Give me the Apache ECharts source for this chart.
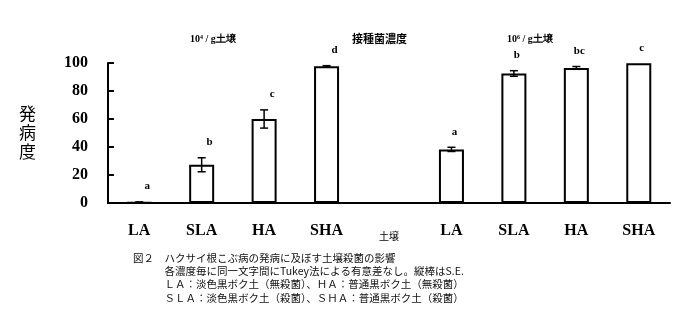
<!DOCTYPE html>
<html><head><meta charset="utf-8">
<script src="https://cdn.jsdelivr.net/npm/echarts@6/dist/echarts.min.js"></script>
<style>html,body{margin:0;padding:0;background:#fff}#c{width:688px;height:315px}</style>
</head><body><div id="c"></div>
<script>
const categories = ['LA','SLA','HA','SHA','土壌','LA','SLA','HA','SHA'];
const values = [0.5, 27.3, 60, 97.6, null, 38.3, 92.5, 96.5, 99.8];
const errors = [0.3, 5, 6.5, 0.5, null, 1.5, 2, 1, 0];
const letters = ['a','b','c','d','', 'a','b','bc','c'];
const yTicks = [0, 20, 40, 60, 80, 100];
const yName = '発病度';
const captionLines = [
  '図２　ハクサイ根こぶ病の発病に及ぼす土壌殺菌の影響',
  '　　　各濃度毎に同一文字間にTukey法による有意差なし。縦棒はS.E.',
  '　　　ＬＡ：淡色黒ボク土（無殺菌）、ＨＡ：普通黒ボク土（無殺菌）',
  '　　　ＳＬＡ：淡色黒ボク土（殺菌）、ＳＨＡ：普通黒ボク土（殺菌）'
];
const headerLeft = '10⁴ / g土壌';
const headerMid = '接種菌濃度';
const headerRight = '10⁶ / g土壌';

const serif = '"Liberation Serif","DejaVu Serif",serif';
const cjk = '"Noto Sans CJK JP",sans-serif';

const errData = values.map((v, i) => v == null ? null : [i, v, errors[i], letters[i]]).filter(d => d);

const chart = echarts.init(document.getElementById('c'));
chart.setOption({
  animation: false,
  grid: {left: 108, right: 18, top: 63, bottom: 112},
  xAxis: {
    type: 'category', data: categories,
    axisLine: {lineStyle: {color: '#000', width: 2}},
    axisTick: {show: false},
    axisLabel: {
      interval: 0, margin: 20, color: '#000', fontFamily: serif, fontWeight: 'bold', fontSize: 16,
      formatter: (v, i) => i === 4 ? '{s|' + v + '}' : v,
      rich: {s: {fontFamily: cjk, fontSize: 10, fontWeight: 'normal', color: '#000', padding: [8, 0, 0, 0]}}
    }
  },
  yAxis: {
    type: 'value', min: 0, max: 100, interval: 20,
    name: yName.split('').join('\n'), nameLocation: 'middle', nameGap: 72, nameRotate: 0,
    nameTextStyle: {fontFamily: cjk, fontSize: 17, color: '#000', lineHeight: 19},
    axisLine: {show: true, lineStyle: {color: '#000', width: 2}},
    axisTick: {show: true, inside: true, length: 6, lineStyle: {color: '#000', width: 2}},
    splitLine: {show: false},
    axisLabel: {color: '#000', fontFamily: serif, fontWeight: 'bold', fontSize: 16, margin: 20,
      formatter: v => yTicks.includes(v) ? String(v) : ''}
  },
  series: [
    {
      type: 'bar', data: values, barWidth: 25,
      itemStyle: {color: '#fff', borderColor: '#000', borderWidth: 2}
    },
    {
      type: 'custom', data: errData, z: 5,
      renderItem: (params, api) => {
        const x = api.value(0), v = api.value(1), e = api.value(2);
        const top = api.coord([x, v + e]);
        const bot = api.coord([x, v - e]);
        const cw = 4;
        const children = [];
        if (e > 0) {
          children.push(
            {type: 'line', shape: {x1: top[0], y1: top[1], x2: bot[0], y2: bot[1]}, style: {stroke: '#000', lineWidth: 1.5}},
            {type: 'line', shape: {x1: top[0]-cw, y1: top[1], x2: top[0]+cw, y2: top[1]}, style: {stroke: '#000', lineWidth: 1.5}},
            {type: 'line', shape: {x1: bot[0]-cw, y1: bot[1], x2: bot[0]+cw, y2: bot[1]}, style: {stroke: '#000', lineWidth: 1.5}}
          );
        }
        const dx = x < 4 ? 8 : 3;
        children.push({type: 'text', x: top[0] + dx, y: top[1] - 10,
          style: {text: api.value(3), fill: '#000', font: 'bold 11px ' + serif, align: 'center', verticalAlign: 'bottom'}});
        return {type: 'group', children};
      }
    }
  ],
  graphic: [
    {type: 'text', left: 190, top: 34, style: {text: headerLeft, fill: '#000', font: 'bold 10px ' + serif}},
    {type: 'text', left: 352, top: 33, style: {text: headerMid, fill: '#000', font: 'bold 11px ' + cjk}},
    {type: 'text', left: 507, top: 34, style: {text: headerRight, fill: '#000', font: 'bold 10px ' + serif}},
    {type: 'text', left: 133, top: 251, style: {text: captionLines.join('\n'), fill: '#111', font: '10.5px ' + cjk, lineHeight: 13.3}}
  ]
});
</script></body></html>
